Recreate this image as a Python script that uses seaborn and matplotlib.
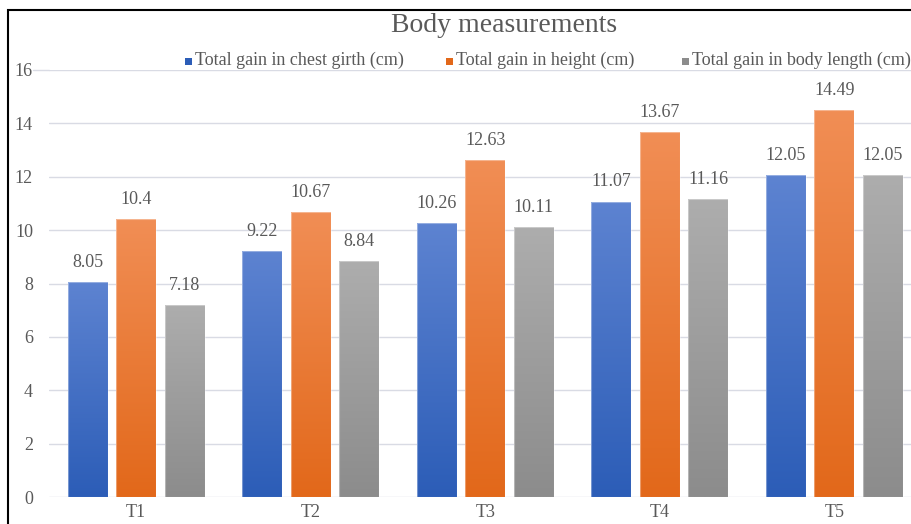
import numpy as np
import pandas as pd
import matplotlib
matplotlib.use("Agg")
import matplotlib.pyplot as plt
from matplotlib.colors import LinearSegmentedColormap
from matplotlib.patches import Rectangle
import seaborn as sns

# Treatment groups and the three measured gains (cm)
treatments = ["T1", "T2", "T3", "T4", "T5"]
chest_girth = [8.05, 9.22, 10.26, 11.07, 12.05]
height_gain = [10.4, 10.67, 12.63, 13.67, 14.49]
body_length = [7.18, 8.84, 10.11, 11.16, 12.05]
series_names = [
    "Total gain in chest girth (cm)",
    "Total gain in height (cm)",
    "Total gain in body length (cm)",
]
y_ticks = [0, 2, 4, 6, 8, 10, 12, 14, 16]

df = pd.DataFrame({
    "Treatment": treatments * 3,
    "Series": np.repeat(series_names, len(treatments)),
    "Value": chest_girth + height_gain + body_length,
})

# (top, bottom) colours for each series' vertical gradient
gradients = [("#5d83d1", "#2c5db7"), ("#f18e55", "#e2681a"), ("#adadad", "#8c8c8c")]
solid = ["#4472c4", "#ed7d31", "#a5a5a5"]

sns.set_theme(style="white")
plt.rcParams["font.family"] = ["Liberation Serif", "DejaVu Serif"]
text_color = "#595959"
grid_color = "#d9dbe4"

fig = plt.figure(figsize=(9.11, 5.24), dpi=100)
ax = fig.add_axes([49 / 911, 27 / 524, 872.5 / 911, 427 / 524])

sns.barplot(data=df, x="Treatment", y="Value", hue="Series", palette=solid,
            width=0.834, gap=0.176, ax=ax, legend=False, saturation=1,
            errorbar=None, zorder=2)

ax.set_ylim(0, 16)
ax.set_yticks(y_ticks)
ax.set_xlim(-0.5, len(treatments) - 0.5)
ax.yaxis.grid(True, color=grid_color, linewidth=1.0, zorder=0)
ax.set_axisbelow(True)
for s in ax.spines.values():
    s.set_visible(False)
ax.tick_params(axis="both", length=0, labelsize=13, colors=text_color)
ax.tick_params(axis="y", pad=11.5)
ax.tick_params(axis="x", pad=5)
ax.set_xlabel("")
ax.set_ylabel("")

# The top gridline runs on to the left, up to its tick label
ax.plot([-16 / 174.5 - 0.5, -0.5], [16, 16], color=grid_color, linewidth=1.0,
        clip_on=False, zorder=0)

# Gradient fills clipped to each bar, plus value labels
grad = np.linspace(0, 1, 256).reshape(-1, 1)
for container, (top, bot) in zip(ax.containers, gradients):
    cmap = LinearSegmentedColormap.from_list("g", [top, bot])
    for patch in container:
        x0, y0 = patch.get_x(), patch.get_y()
        w, h = patch.get_width(), patch.get_height()
        patch.set_facecolor("none")
        patch.set_edgecolor((1, 1, 1, 0.35))
        patch.set_linewidth(0.8)
        im = ax.imshow(grad, cmap=cmap, aspect="auto", extent=(x0, x0 + w, y0, y0 + h),
                       origin="upper", zorder=1.9, interpolation="bilinear")
        im.set_clip_path(patch)
    ax.bar_label(container, labels=[f"{v:g}" for v in container.datavalues],
                 padding=8, fontsize=13, color=text_color)
ax.set_xlim(-0.5, len(treatments) - 0.5)
ax.set_ylim(0, 16)

# Title and legend across the top of the chart
fig.text(504 / 911, 1 - 32 / 524, "Body measurements", ha="center", va="baseline",
         fontsize=20, color=text_color)
legend_x = [185, 446, 682]
for lx, name, (top, bot) in zip(legend_x, series_names, gradients):
    fig.add_artist(Rectangle((lx / 911, 1 - 65 / 524), 7 / 911, 7 / 524,
                             transform=fig.transFigure, facecolor=bot, edgecolor="none"))
    fig.text((lx + 10) / 911, 1 - 65 / 524, name, ha="left", va="baseline",
             fontsize=13, color=text_color)

# Chart frame
fig.add_artist(Rectangle((8 / 911, -0.1), 1.2, 1 - 10 / 524 + 0.1, transform=fig.transFigure,
                         fill=False, edgecolor="black", linewidth=1.5))

fig.savefig("out.png", dpi=100, facecolor="white")
